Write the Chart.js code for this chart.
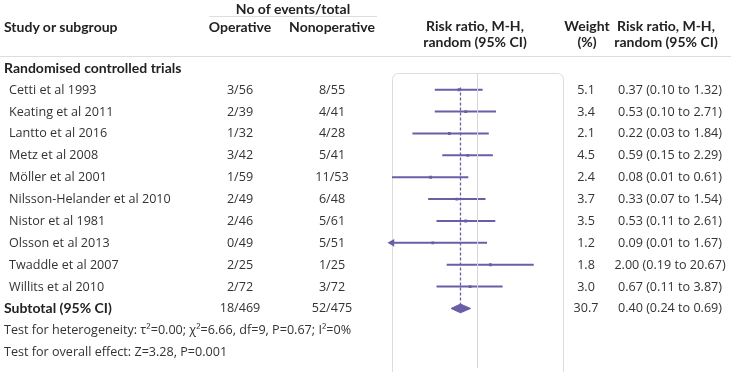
<!DOCTYPE html>
<html>
<head>
<meta charset="utf-8">
<script src="https://cdn.jsdelivr.net/npm/chart.js@4"></script>
<style>
    body { margin: 0; background: #fff; }
    #wrap { position: relative; width: 731px; height: 372px; overflow: hidden; font-family: "Open Sans", sans-serif; font-size: 12.6px; color: #333; }
    #plot { position: absolute; left: 0; top: 0; }
    .t { position: absolute; white-space: nowrap; transform: translateY(-50%); line-height: 1; }
    .c { transform: translate(-50%, -50%); text-align: center; }
    .b { font-family: Lato, sans-serif; font-size: 14px; font-weight: 700; color: #222; }
    .rule { position: absolute; height: 1px; background: #ddd; }
</style>
</head>
<body>
<div id="wrap">
    <canvas id="plot" width="731" height="372"></canvas>
</div>
<script>
const studies = ["Cetti et al 1993", "Keating et al 2011", "Lantto et al 2016", "Metz et al 2008", "Möller et al 2001",
    "Nilsson-Helander et al 2010", "Nistor et al 1981", "Olsson et al 2013", "Twaddle et al 2007", "Willits et al 2010"];
const operative = ["3/56", "2/39", "1/32", "3/42", "1/59", "2/49", "2/46", "0/49", "2/25", "2/72"];
const nonoperative = ["8/55", "4/41", "4/28", "5/41", "11/53", "6/48", "5/61", "5/51", "1/25", "3/72"];
const weights = [5.1, 3.4, 2.1, 4.5, 2.4, 3.7, 3.5, 1.2, 1.8, 3.0];
const riskRatio = [0.37, 0.53, 0.22, 0.59, 0.08, 0.33, 0.53, 0.09, 2.00, 0.67];
const ciLow = [0.10, 0.10, 0.03, 0.15, 0.01, 0.07, 0.11, 0.01, 0.19, 0.11];
const ciHigh = [1.32, 2.71, 1.84, 2.29, 0.61, 1.54, 2.61, 1.67, 20.67, 3.87];
const arrowLeft = ["Olsson et al 2013"];

const subtotal = { operative: "18/469", nonoperative: "52/475", weight: 30.7, rr: 0.40, low: 0.24, high: 0.69 };
const heterogeneity = "Test for heterogeneity: τ²=0.00; χ²=6.66, df=9, P=0.67; I²=0%";
const overallEffect = "Test for overall effect: Z=3.28, P=0.001";

const purple = "#6a5fa6";
const subRow = studies.length;

function fmt(v) { return v.toFixed(2); }

const datasets = [];

// dashed line at pooled estimate
datasets.push({
    data: [{ x: subtotal.rr, y: -0.1 }, { x: subtotal.rr, y: subRow - 0.2 }],
    showLine: true, borderColor: purple, borderWidth: 1.3, borderDash: [3, 2], pointRadius: 0,
});

// line of no effect
datasets.push({
    data: [{ x: 1, y: -1 }, { x: 1, y: 14 }],
    showLine: true, borderColor: "#d6d6d6", borderWidth: 1, pointRadius: 0,
});

studies.forEach((s, i) => {
    datasets.push({
        data: [{ x: ciLow[i], y: i }, { x: ciHigh[i], y: i }],
        showLine: true, borderColor: purple, borderWidth: 2, pointRadius: 0,
    });
});

datasets.push({
    data: studies.map((s, i) => ({ x: riskRatio[i], y: i })),
    pointStyle: "rect", pointRadius: 2, backgroundColor: purple, borderColor: purple, borderWidth: 0,
});

datasets.push({
    data: studies.map((s, i) => (arrowLeft.includes(s) ? { x: ciLow[i], y: i } : null)).filter(Boolean),
    pointStyle: "triangle", rotation: -90, pointRadius: 4.5, backgroundColor: purple, borderColor: purple, borderWidth: 0,
    clip: false,
});

// pooled diamond (upper and lower halves filled between)
datasets.push({
    data: [{ x: subtotal.low, y: subRow }, { x: subtotal.rr, y: subRow - 0.2 }, { x: subtotal.high, y: subRow }],
    showLine: true, borderColor: purple, borderWidth: 1, pointRadius: 0, fill: "+1", backgroundColor: purple,
});
datasets.push({
    data: [{ x: subtotal.low, y: subRow }, { x: subtotal.rr, y: subRow + 0.2 }, { x: subtotal.high, y: subRow }],
    showLine: true, borderColor: purple, borderWidth: 1, pointRadius: 0, fill: false,
});

const boxPlugin = {
    id: "box",
    beforeDatasetsDraw(chart) {
        const { ctx, chartArea } = chart;
        ctx.save();
        ctx.strokeStyle = "#dcdcdc";
        ctx.lineWidth = 1;
        ctx.beginPath();
        ctx.roundRect(chartArea.left + 0.5, chartArea.top + 0.5, chartArea.right - chartArea.left, chartArea.bottom - chartArea.top + 20, 6);
        ctx.stroke();
        ctx.restore();
    },
};

const chart = new Chart(document.getElementById("plot").getContext("2d"), {
    type: "scatter",
    data: { datasets: datasets },
    options: {
        responsive: false,
        animation: false,
        layout: { padding: { left: 392, right: 168, top: 73, bottom: 0 } },
        plugins: { legend: { display: false }, tooltip: { enabled: false } },
        scales: {
            x: { type: "logarithmic", min: 0.01, max: 100, display: false },
            y: { type: "linear", reverse: true, min: -0.766, max: 12.70, display: false },
        },
    },
    plugins: [boxPlugin],
});

const wrap = document.getElementById("wrap");
function addText(text, x, y, cls) {
    const d = document.createElement("div");
    d.className = "t " + (cls || "");
    d.textContent = text;
    d.style.left = x + "px";
    d.style.top = y + "px";
    wrap.appendChild(d);
}
function addRule(x, y, w) {
    const d = document.createElement("div");
    d.className = "rule";
    d.style.left = x + "px";
    d.style.top = y + "px";
    d.style.width = w + "px";
    wrap.appendChild(d);
}

// headers
addText("No of events/total", 293, 9, "c b");
addRule(209, 16, 168);
addText("Study or subgroup", 4, 27, "b");
addText("Operative", 240, 27, "c b");
addText("Nonoperative", 332, 27, "c b");
addText("Risk ratio, M-H,", 475, 26, "c b");
addText("random (95% CI)", 475, 42, "c b");
addText("Weight", 587, 26, "c b");
addText("(%)", 587, 42, "c b");
addText("Risk ratio, M-H,", 666, 26, "c b");
addText("random (95% CI)", 666, 42, "c b");
addRule(0, 56, 731);

const yPix = (v) => chart.scales.y.getPixelForValue(v);

addText("Randomised controlled trials", 4, yPix(-1), "b");
studies.forEach((s, i) => {
    const y = yPix(i);
    addText(s, 9, y);
    addText(operative[i], 240, y, "c");
    addText(nonoperative[i], 332, y, "c");
    addText(weights[i].toFixed(1), 586, y, "c");
    addText(fmt(riskRatio[i]) + " (" + fmt(ciLow[i]) + " to " + fmt(ciHigh[i]) + ")", 670, y, "c");
});
const ys = yPix(subRow);
addText("Subtotal (95% CI)", 4, ys, "b");
addText(subtotal.operative, 240, ys, "c");
addText(subtotal.nonoperative, 332, ys, "c");
addText(subtotal.weight.toFixed(1), 586, ys, "c");
addText(fmt(subtotal.rr) + " (" + fmt(subtotal.low) + " to " + fmt(subtotal.high) + ")", 670, ys, "c");
addText(heterogeneity, 4, yPix(subRow + 1));
addText(overallEffect, 4, yPix(subRow + 2));
</script>
</body>
</html>
